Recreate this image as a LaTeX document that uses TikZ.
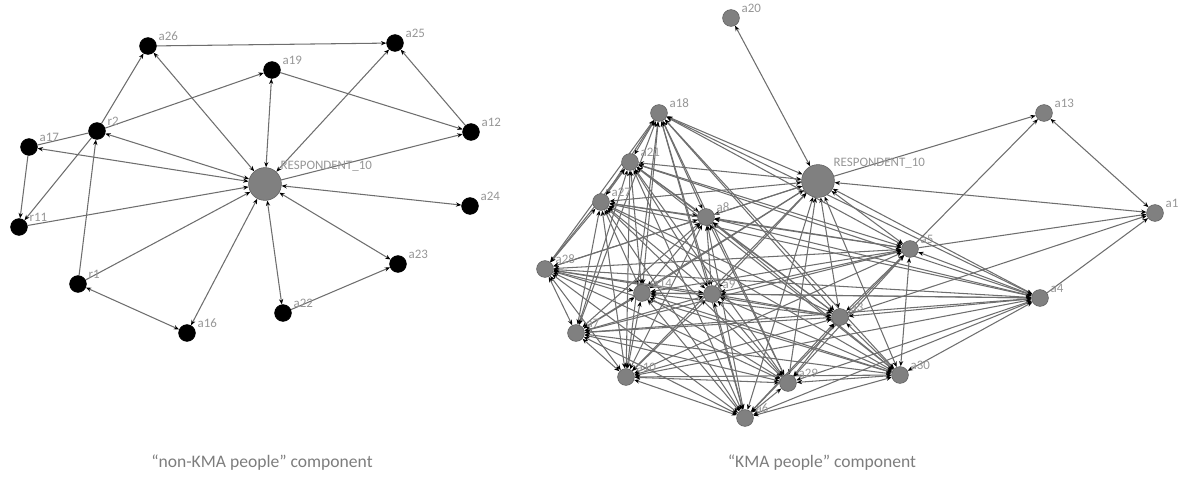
\documentclass[tikz,border=0pt]{standalone}
\usepackage{fontspec}
\setmainfont{Carlito}
\usetikzlibrary{arrows.meta}
\definecolor{lblgray}{RGB}{150,150,150}
\definecolor{edgegray}{RGB}{110,110,110}
\definecolor{nodegray}{RGB}{128,128,128}
\definecolor{rimgray}{RGB}{95,95,95}
\definecolor{capgray}{RGB}{125,125,125}
\pgfdeclarelayer{bg}
\pgfsetlayers{bg,main}
\tikzset{
  >={Stealth[length=3.8pt,width=3pt,color=black]},
  lbl/.style={text=lblgray,font=\fontsize{9.2}{10}\selectfont,inner sep=1.6pt},
  blk/.style={circle,fill=black,draw=black,minimum size=0.42cm,inner sep=0pt,
              label={[lbl]22:#1}},
  gry/.style={circle,fill=nodegray,draw=rimgray,line width=0.4pt,minimum size=0.42cm,inner sep=0pt,
              label={[lbl]22:#1}},
  hub/.style={circle,fill=nodegray,draw=rimgray,line width=0.4pt,minimum size=0.82cm,inner sep=0pt,
              label={[lbl]38:RESPONDENT\_10}},
  lnk/.style={draw=edgegray,line width=0.75pt},
  captxt/.style={text=capgray,font=\fontsize{12.5}{14}\selectfont,inner sep=0pt}
}
\begin{document}
\begin{tikzpicture}[x=0.025cm,y=-0.025cm]
\useasboundingbox (0,0) rectangle (1178,480);

% ---------- non-KMA component ----------
\node[blk=a26] (La26) at (148,46) {};
\node[blk=a25] (La25) at (395,43) {};
\node[blk=a19] (La19) at (272,70) {};
\node[blk=r2]  (Lr2)  at (97,131) {};
\node[blk=a17] (La17) at (29,147) {};
\node[hub]     (LR)   at (265,184) {};
\node[blk=a12] (La12) at (471,132) {};
\node[blk=a24] (La24) at (470,206) {};
\node[blk=r11] (Lr11) at (19,227) {};
\node[blk=a23] (La23) at (398,264) {};
\node[blk=r1]  (Lr1)  at (78,284) {};
\node[blk=a22] (La22) at (283,313) {};
\node[blk=a16] (La16) at (187,333) {};

\begin{pgfonlayer}{bg}
\draw[lnk,->]  (La26) -- (La25);
\draw[lnk,->]  (Lr2) -- (La26);
\draw[lnk,<->] (LR) -- (La26);
\draw[lnk,->]  (Lr2) -- (La19);
\draw[lnk,<->] (LR) -- (La19);
\draw[lnk,->]  (La19) -- (La12);
\draw[lnk,<->] (LR) -- (La25);
\draw[lnk,->]  (La12) -- (La25);
\draw[lnk,->]  (LR) -- (La12);
\draw[lnk]     (La17) -- (Lr2);
\draw[lnk,<->] (LR) -- (La17);
\draw[lnk,<->] (LR) -- (Lr2);
\draw[lnk,->]  (La17) -- (Lr11);
\draw[lnk,->]  (Lr2) -- (Lr11);
\draw[lnk,->]  (Lr1) -- (Lr2);
\draw[lnk,->]  (Lr11) -- (LR);
\draw[lnk,->]  (Lr1) -- (LR);
\draw[lnk,<->] (Lr1) -- (La16);
\draw[lnk,<->] (LR) -- (La16);
\draw[lnk,<->] (LR) -- (La22);
\draw[lnk,<->] (LR) -- (La23);
\draw[lnk,<->] (LR) -- (La24);
\draw[lnk,->]  (La22) -- (La23);
\end{pgfonlayer}

% ---------- KMA component ----------
\node[gry=a20] (Ka20) at (731,18) {};
\node[gry=a18] (Ka18) at (659,113) {};
\node[hub]     (KR)   at (818,181) {};
\node[gry=a13] (Ka13) at (1044,113) {};
\node[gry=a21] (Ka21) at (630,162) {};
\node[gry=a27] (Ka27) at (601,202) {};
\node[gry=a8]  (Ka8)  at (706,217) {};
\node[gry=a15] (Ka15) at (1155,213) {};
\node[gry=a5]  (Ka5)  at (910,249) {};
\node[gry=a28] (Ka28) at (545,269) {};
\node[gry=a14] (Ka14) at (642,293) {};
\node[gry=a9]  (Ka9)  at (712,294) {};
\node[gry=a4]  (Ka4)  at (1040,298) {};
\node[gry=a3]  (Ka3)  at (840,317) {};
\node[gry=a7]  (Ka7)  at (576,333) {};
\node[gry=a10] (Ka10) at (626,377) {};
\node[gry=a29] (Ka29) at (788,383) {};
\node[gry=a30] (Ka30) at (900,375) {};
\node[gry=a6]  (Ka6)  at (745,418) {};

\begin{pgfonlayer}{bg}
% dense core: every pair of core members is tied both ways
\foreach \u [count=\i] in {KR,Ka18,Ka21,Ka27,Ka8,Ka28,Ka14,Ka9,Ka7,Ka10,Ka6,Ka29,Ka3,Ka30,Ka5,Ka4}{
  \foreach \v [count=\j] in {KR,Ka18,Ka21,Ka27,Ka8,Ka28,Ka14,Ka9,Ka7,Ka10,Ka6,Ka29,Ka3,Ka30,Ka5,Ka4}{
    \ifnum\j>\i \draw[lnk,<->] (\u) -- (\v); \fi
  }
}
% periphery
\draw[lnk,<->] (KR) -- (Ka20);
\draw[lnk,->]  (KR) -- (Ka13);
\draw[lnk,->]  (Ka5) -- (Ka13);
\draw[lnk,<->] (Ka13) -- (Ka15);
\draw[lnk,<->] (KR) -- (Ka15);
\draw[lnk,->]  (Ka5) -- (Ka15);
\draw[lnk,->]  (Ka3) -- (Ka15);
\draw[lnk,->]  (Ka4) -- (Ka15);
\end{pgfonlayer}

% ---------- captions ----------
\node[captxt] (capL) at (262,463) {“non-KMA people” component};
\node[captxt] (capR) at (822,463) {“KMA people” component};
\end{tikzpicture}
\end{document}
